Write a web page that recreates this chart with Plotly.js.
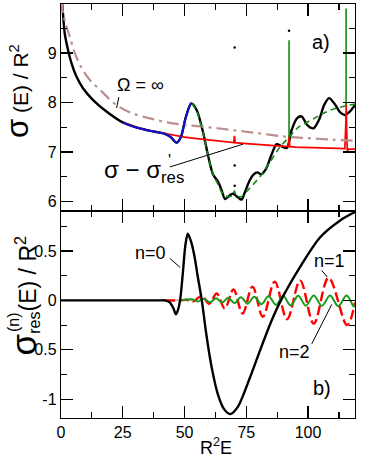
<!DOCTYPE html>
<html>
<head>
<meta charset="utf-8">
<script src="https://cdn.plot.ly/plotly-3.0.1.min.js"></script>
<style>html,body{margin:0;padding:0;background:#fff;}#chart{width:371px;height:460px;}</style>
</head>
<body>
<div id="chart"></div>
<script>
// ---------- top panel (a) ----------
const sigmaX = [0.3,0.8,1.5,2.8,4.2,6.2,8.9,13,18.4,25,32,38,42,44.5,46.8,48.5,50.5,52.7,54.9,57.6,59.6,61.6,63.6,65,66.4,68.2,69.5,71.3,73.1,74.5,76.5,78,79.5,81,83,85,87.3,89.2,91.4,93.4,95.5,97.4,99.6,102.2,104.5,106.5,108.5,110.8,113,115,117,119];
const sigmaY = [10.1,9.8,9.4,9.07,8.8,8.53,8.29,8.05,7.82,7.6,7.48,7.41,7.37,7.3,7.19,7.3,7.7,7.98,7.85,7.38,6.91,6.54,6.4,6.23,6.05,6.12,6.16,6.1,6.04,6.2,6.44,6.55,6.59,6.55,6.66,6.92,7.16,7.12,7.08,7.45,7.68,7.72,7.55,7.48,7.66,7.95,8.09,7.97,7.8,7.75,7.82,7.95];

const blueX = [25,30,35,40,42.5,44.5,46.8,48.5,50.5,52.7,53.8];
const blueY = [7.6,7.5,7.44,7.39,7.36,7.3,7.19,7.3,7.7,7.98,7.95];

const redX = [25,30,35,40,45,50,55,60,65,69.9,70.2,70.5,75,80,85,90,92.0,92.3,92.6,95,100,105,110,114.9,115.3,115.45,115.6,115.9,116.4,119];
const redY = [7.6,7.5,7.44,7.39,7.34,7.3,7.27,7.24,7.21,7.19,7.33,7.19,7.17,7.15,7.13,7.12,7.11,7.35,7.11,7.1,7.09,7.08,7.07,7.07,7.6,8.0,7.5,7.02,7.06,7.06];

const greenX = [53,55,57.6,59.6,61.6,63.5,65.5,67.5,69.6,70.2,70.8,73,76,80.5,84.6,88.6,92.3,96,102.2,106,110.3,115,119];
const greenY = [7.98,7.82,7.38,6.9,6.55,6.35,6.15,6.1,6.12,6.22,6.12,6.1,6.25,6.5,6.8,7.1,7.3,7.5,7.67,7.78,7.87,7.93,7.97];

const spikeX = [92.3,115.4];
const greenSpikeBase = [7.3,7.95];
const greenSpikeTop = [9.26,9.9];

const omegaX = [0.3,0.8,2.2,3.5,5.6,8.3,11.6,15.7,22.4,28,36,43,50,60,70,80,91,100,110,119];
const omegaY = [10.05,9.81,9.54,9.34,9.0,8.7,8.46,8.26,7.95,7.8,7.68,7.6,7.55,7.5,7.44,7.38,7.31,7.28,7.25,7.23];

const dotX = [70.3,70.3,70.3,92.3];
const dotY = [9.11,6.73,6.32,9.45];

// ---------- bottom panel (b) ----------
const n0X = [0,40,42,44,45.5,46.5,47.3,48.2,49.4,50.3,51.3,52.6,54,55.3,57,58.8,61,63.5,66,68.5,71.5,76.5,80.5,85.3,89,96.8,104.9,113,119];
const n0Y = [0,0,0,-0.02,-0.08,-0.14,-0.1,0,0.3,0.55,0.675,0.6,0.45,0.25,0,-0.34,-0.68,-0.95,-1.1,-1.15,-1.08,-0.78,-0.51,-0.2,0,0.34,0.64,0.81,0.895];

const n1X = [42,48,51,53.5,57,60,63,66.3,69.8,73.5,77.5,81.7,86.5,91.5,96.8,102.3,108.3,115.8,119];
const n1Y = [0,0,0.005,-0.01,0.045,-0.033,0.07,-0.082,0.11,-0.133,0.14,-0.165,0.19,-0.19,0.2,-0.235,0.23,-0.25,-0.02];

const n2X = [48,53,55.4,57.9,60.3,62.8,65.2,67.7,70.2,72.8,75.5,78.2,81.1,84,87,89.9,93,96,99.1,102.3,105.6,108.9,112.2,115.6,118.5,119];
const n2Y = [0,0.012,-0.01,0.018,-0.018,0.022,-0.022,0.028,-0.028,0.033,-0.033,0.038,-0.038,0.042,-0.045,0.045,-0.05,0.048,-0.053,0.05,-0.055,0.05,-0.058,0.05,-0.06,-0.055];

const flatX = [41.3,53.5];
const flatY = [0,0.004];

// ---------- axes ticks ----------
const xTickVals = [0,25,50,75,100];
const xTickText = ['0','25','50','75','100'];
const topTickVals = [6,7,8,9];
const topTickText = ['6','7','8','9'];
const botTickVals = [-1,-0.5,0,0.5];
const botTickText = ['-1','-0.5','0','0.5'];

const FONT = 'Liberation Sans, Arial, Helvetica, sans-serif';

function spikes(xs, base, top){
  const X=[],Y=[];
  xs.forEach((x,i)=>{X.push(x,x,null);Y.push(base[i],top[i],null);});
  return {X,Y};
}
const gs = spikes(spikeX, greenSpikeBase, greenSpikeTop);

const traces = [
  {x:sigmaX,y:sigmaY,xaxis:'x2',yaxis:'y2',mode:'lines',line:{color:'#000',width:2.4,shape:'spline',smoothing:0.8}},
  {x:redX,y:redY,xaxis:'x2',yaxis:'y2',mode:'lines',line:{color:'#ff0000',width:1.7}},
  {x:omegaX,y:omegaY,xaxis:'x2',yaxis:'y2',mode:'lines',line:{color:'#bc8f8f',width:2.2,dash:'12px,5px,3px,5px',shape:'spline'}},
  {x:blueX,y:blueY,xaxis:'x2',yaxis:'y2',mode:'lines',line:{color:'#1010d0',width:2,shape:'spline',smoothing:0.8}},
  {x:greenX,y:greenY,xaxis:'x2',yaxis:'y2',mode:'lines',line:{color:'#108c10',width:1.6,dash:'6px,4px',shape:'spline',smoothing:0.6}},
  {x:gs.X,y:gs.Y,xaxis:'x2',yaxis:'y2',mode:'lines',line:{color:'#108c10',width:1.6}},
  {x:dotX,y:dotY,xaxis:'x2',yaxis:'y2',mode:'markers',marker:{color:'#000',size:2.5}},

  {x:flatX,y:flatY,xaxis:'x',yaxis:'y',mode:'lines',line:{color:'#c8a0a0',width:1.5}},
  {x:n1X,y:n1Y,xaxis:'x',yaxis:'y',mode:'lines',line:{color:'#ff0000',width:2.4,dash:'10px,4px',shape:'spline'}},
  {x:n2X,y:n2Y,xaxis:'x',yaxis:'y',mode:'lines',line:{color:'#1a9a1a',width:2,shape:'spline'}},
  {x:n0X,y:n0Y,xaxis:'x',yaxis:'y',mode:'lines',line:{color:'#000',width:2.4,shape:'spline',smoothing:0.8}}
];

const axCommon = {
  showline:true, linecolor:'#000', linewidth:1.2, mirror:'ticks',
  ticks:'inside', ticklen:12, tickwidth:1.2, tickcolor:'#000',
  showgrid:false, zeroline:false,
  tickfont:{family:FONT,size:16,color:'#000'}
};

const layout = {
  width:371, height:460,
  margin:{l:61,r:16,t:4,b:42},
  paper_bgcolor:'#fff', plot_bgcolor:'#fff',
  showlegend:false,
  font:{family:FONT,color:'#000'},
  xaxis: Object.assign({}, axCommon, {domain:[0,1], range:[0,119], anchor:'y',
    tickmode:'array', tickvals:xTickVals, ticktext:xTickText,
    minor:{dtick:12.5, tick0:0, ticks:'inside', ticklen:6, tickwidth:1.2, tickcolor:'#000'}}),
  xaxis2: Object.assign({}, axCommon, {domain:[0,1], range:[0,119], anchor:'y2', matches:'x',
    showticklabels:false, tickmode:'array', tickvals:xTickVals,
    minor:{dtick:12.5, tick0:0, ticks:'inside', ticklen:6, tickwidth:1.2, tickcolor:'#000'}}),
  yaxis: Object.assign({}, axCommon, {domain:[0,0.5], range:[-1.19,0.905], anchor:'x',
    tickmode:'array', tickvals:botTickVals, ticktext:botTickText,
    minor:{dtick:0.25, tick0:0, ticks:'inside', ticklen:6, tickwidth:1.2, tickcolor:'#000'}}),
  yaxis2: Object.assign({}, axCommon, {domain:[0.5,1], range:[5.81,9.99], anchor:'x2',
    tickmode:'array', tickvals:topTickVals, ticktext:topTickText,
    minor:{dtick:0.5, tick0:0, ticks:'inside', ticklen:6, tickwidth:1.2, tickcolor:'#000'}}),
  annotations:[
    {xref:'paper',yref:'paper',x:-0.146,y:0.79,textangle:-90,showarrow:false,xanchor:'center',yanchor:'middle',
     text:"<span style='font-size:31px'>σ</span> (E) / R<sup>2</sup>",font:{family:FONT,size:21,color:'#000'}},
    {xref:'paper',yref:'paper',x:-0.126,y:0.296,textangle:-90,showarrow:false,xanchor:'center',yanchor:'middle',
     text:"<span style='font-size:35px'>σ</span><sub>res</sub>(E) / R<sup>2</sup>",font:{family:FONT,size:23,color:'#000'}},
    {xref:'paper',yref:'paper',x:-0.161,y:0.231,textangle:-90,showarrow:false,xanchor:'center',yanchor:'middle',
     text:"(n)",font:{family:FONT,size:16,color:'#000'}},
    {xref:'x2',yref:'y2',x:21.8,y:8.36,xanchor:'left',yanchor:'middle',showarrow:false,
     text:"Ω = ∞",font:{family:FONT,size:18,color:'#000'}},
    {xref:'x2',yref:'y2',x:16.5,y:6.6,xanchor:'left',yanchor:'middle',showarrow:false,
     text:"σ − σ<sub>res</sub>",font:{family:FONT,size:24,color:'#000'}},
    {xref:'x2',yref:'y2',x:44.0,y:6.82,xanchor:'center',yanchor:'middle',showarrow:false,
     text:"'",font:{family:FONT,size:16,color:'#000'}},
    {xref:'x2',yref:'y2',x:105.2,y:9.23,xanchor:'center',yanchor:'middle',showarrow:false,
     text:"a)",font:{family:FONT,size:20,color:'#000'}},
    {xref:'x',yref:'y',x:105.7,y:-0.89,xanchor:'center',yanchor:'middle',showarrow:false,
     text:"b)",font:{family:FONT,size:20,color:'#000'}},
    {xref:'x',yref:'y',x:36.4,y:0.485,xanchor:'center',yanchor:'middle',showarrow:false,
     text:"n=0",font:{family:FONT,size:18,color:'#000'}},
    {xref:'x',yref:'y',x:108.6,y:0.395,xanchor:'center',yanchor:'middle',showarrow:false,
     text:"n=1",font:{family:FONT,size:18,color:'#000'}},
    {xref:'x',yref:'y',x:94.7,y:-0.517,xanchor:'center',yanchor:'middle',showarrow:false,
     text:"n=2",font:{family:FONT,size:18,color:'#000'}},
    {xref:'paper',yref:'paper',x:0.527,y:-0.07,xanchor:'center',yanchor:'middle',showarrow:false,
     text:"R<sup>2</sup>E",font:{family:FONT,size:18,color:'#000'}}
  ],
  shapes:[
    {type:'line',xref:'x2',yref:'y2',x0:23.4,y0:8.11,x1:22.5,y1:7.89,line:{color:'#000',width:1}},
    {type:'line',xref:'x2',yref:'y2',x0:44.1,y0:6.70,x1:73.7,y1:7.16,line:{color:'#000',width:1}},
    {type:'line',xref:'x',yref:'y',x0:44.1,y0:0.425,x1:48.2,y1:0.334,line:{color:'#000',width:1}},
    {type:'line',xref:'x',yref:'y',x0:105.5,y0:0.304,x1:107.8,y1:0.237,line:{color:'#000',width:1}},
    {type:'line',xref:'x',yref:'y',x0:101.5,y0:-0.44,x1:109.6,y1:-0.04,line:{color:'#000',width:1}}
  ]
};

Plotly.newPlot('chart', traces, layout, {displayModeBar:false, staticPlot:true});
</script>
</body>
</html>
